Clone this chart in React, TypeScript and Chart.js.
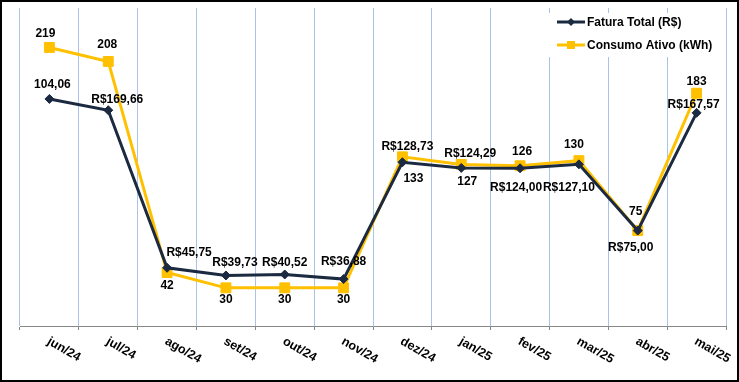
import React, { useEffect, useRef } from "react";
import { Chart, registerables } from "chart.js";

Chart.register(...registerables);

const categories = ["jun/24", "jul/24", "ago/24", "set/24", "out/24", "nov/24", "dez/24", "jan/25", "fev/25", "mar/25", "abr/25", "mai/25"];
const faturaValues = [178.5, 169.66, 45.75, 39.73, 40.52, 36.88, 128.73, 124.29, 124.0, 127.1, 75.0, 167.57];
const faturaLabels = ["104,06", "R$169,66", "R$45,75", "R$39,73", "R$40,52", "R$36,88", "R$128,73", "R$124,29", "R$124,00", "R$127,10", "R$75,00", "R$167,57"];
const consumoValues = [219, 208, 42, 30, 30, 30, 133, 127, 126, 130, 75, 183];
const consumoLabels = ["219", "208", "42", "30", "30", "30", "133", "127", "126", "130", "75", "183"];
const seriesNames = ["Fatura Total (R$)", "Consumo Ativo (kWh)"];

// label placement relative to each point (style only)
const faturaLabelOffsets = [[3, -14], [9, -11], [22, -15], [9, -13], [0, -12], [0, -17], [5, -16], [9, -14], [-4, 19], [-10, 23], [-7, 17], [-3, -8]];
const consumoLabelOffsets = [[-4, -14], [-1, -17], [0, 13], [0, 12], [0, 12], [0, 12], [11, 22], [6, 17], [2, -14], [-5, -16], [-2, -19], [0, -12]];

const NAVY = "#1b2a41";
const YELLOW = "#ffc000";
const FONT = "'Liberation Sans', Arial, sans-serif";

export default function App() {
  const ref = useRef<HTMLCanvasElement | null>(null);

  useEffect(() => {
    const canvas = ref.current;
    if (!canvas) return;

    const overlay = {
      id: "overlay",
      afterDatasetsDraw(chart: any) {
        const ctx = chart.ctx;
        ctx.save();
        ctx.font = `bold 12px ${FONT}`;
        ctx.fillStyle = "#000";
        ctx.textAlign = "center";
        ctx.textBaseline = "middle";
        const sets = [
          { idx: 0, labels: faturaLabels, offs: faturaLabelOffsets },
          { idx: 1, labels: consumoLabels, offs: consumoLabelOffsets },
        ];
        sets.forEach((s) => {
          const meta = chart.getDatasetMeta(s.idx);
          meta.data.forEach((pt: any, i: number) => {
            const [dx, dy] = s.offs[i];
            ctx.fillText(s.labels[i], pt.x + dx, pt.y + dy);
          });
        });
        ctx.restore();
      },
      afterDraw(chart: any) {
        const ctx = chart.ctx;
        const xs = chart.scales.x;
        const area = chart.chartArea;
        ctx.save();
        // category labels, rotated
        ctx.font = `bold 12.5px ${FONT}`;
        ctx.fillStyle = "#000";
        ctx.textAlign = "left";
        ctx.textBaseline = "top";
        categories.forEach((c, i) => {
          const x = xs.getPixelForValue(i);
          ctx.save();
          ctx.translate(x + 2, area.bottom + 9);
          ctx.rotate(Math.PI / 6);
          ctx.fillText(c, 0, 0);
          ctx.restore();
        });
        // legend
        ctx.fillStyle = "#fff";
        ctx.fillRect(545, 13, 176, 44);
        const items = [
          { name: seriesNames[0], color: NAVY, y: 22, shape: "diamond" },
          { name: seriesNames[1], color: YELLOW, y: 45, shape: "square" },
        ];
        items.forEach((it) => {
          ctx.strokeStyle = it.color;
          ctx.lineWidth = 3;
          ctx.beginPath();
          ctx.moveTo(557, it.y);
          ctx.lineTo(585, it.y);
          ctx.stroke();
          ctx.fillStyle = it.color;
          ctx.beginPath();
          if (it.shape === "diamond") {
            ctx.moveTo(571, it.y - 4);
            ctx.lineTo(575, it.y);
            ctx.lineTo(571, it.y + 4);
            ctx.lineTo(567, it.y);
            ctx.closePath();
          } else {
            ctx.rect(567, it.y - 4, 8, 8);
          }
          ctx.fill();
          ctx.fillStyle = "#000";
          ctx.font = `bold 12px ${FONT}`;
          ctx.textAlign = "left";
          ctx.textBaseline = "middle";
          ctx.fillText(it.name, 587, it.y + 1);
        });
        // outer border
        ctx.strokeStyle = "#000";
        ctx.lineWidth = 2;
        ctx.strokeRect(1, 1, chart.width - 2, chart.height - 2);
        ctx.restore();
      },
    };

    const chart = new Chart(canvas, {
      type: "line",
      data: {
        labels: categories,
        datasets: [
          {
            label: seriesNames[0],
            data: faturaValues,
            borderColor: NAVY,
            backgroundColor: NAVY,
            borderWidth: 3,
            pointStyle: "rectRot",
            pointRadius: 4.5,
            pointBorderWidth: 1,
            tension: 0,
          },
          {
            label: seriesNames[1],
            data: consumoValues,
            borderColor: YELLOW,
            backgroundColor: YELLOW,
            borderWidth: 3,
            pointStyle: "rect",
            pointRadius: 7,
            pointBorderWidth: 1,
            tension: 0,
          },
        ],
      },
      options: {
        responsive: false,
        animation: false,
        layout: { padding: { left: 20, right: 13, top: 8, bottom: 52 } },
        plugins: { legend: { display: false }, tooltip: { enabled: false } },
        scales: {
          x: {
            offset: true,
            grid: {
              offset: true,
              color: "#a9c4e8",
              lineWidth: 1,
              tickLength: 4,
              tickColor: "#888888",
              drawTicks: true,
            },
            border: { color: "#888888", width: 1 },
            ticks: { display: false },
          },
          y: { display: false, min: 0, max: 250 },
        },
      },
      plugins: [overlay],
    });

    return () => chart.destroy();
  }, []);

  return (
    <div style={{ position: "fixed", left: 0, top: 0, width: 739, height: 382, background: "#fff" }}>
      <canvas ref={ref} width={739} height={382} style={{ display: "block" }} />
    </div>
  );
}
